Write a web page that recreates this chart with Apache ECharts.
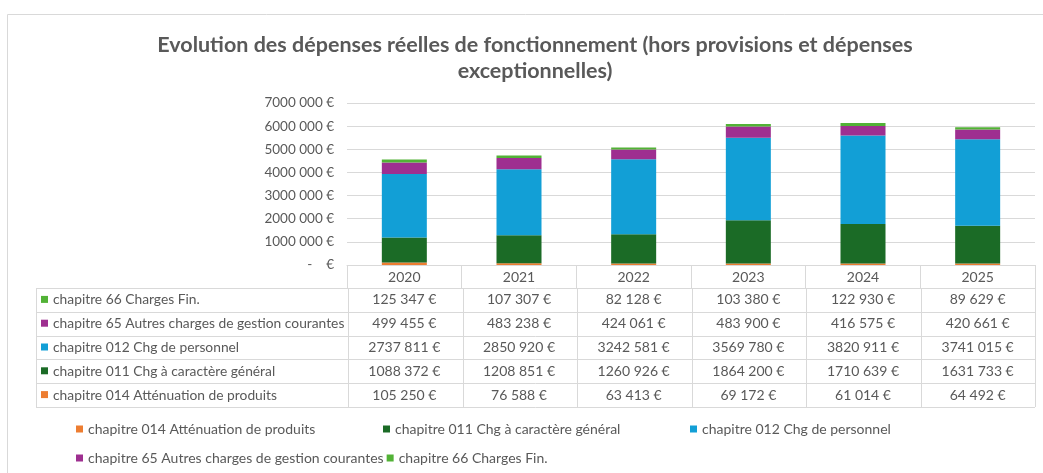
<!DOCTYPE html>
<html>
<head>
<meta charset="utf-8">
<script src="https://cdn.jsdelivr.net/npm/echarts@6/dist/echarts.min.js"></script>
<style>
html, body { margin: 0; padding: 0; background: #fff; }
#chart { width: 1043px; height: 473px; }
</style>
</head>
<body>
<div id="chart"></div>
<script>
// données
const years = ['2020', '2021', '2022', '2023', '2024', '2025'];
const ch014 = [105250, 76588, 63413, 69172, 61014, 64492];
const ch011 = [1088372, 1208851, 1260926, 1864200, 1710639, 1631733];
const ch012 = [2737811, 2850920, 3242581, 3569780, 3820911, 3741015];
const ch65 = [499455, 483238, 424061, 483900, 416575, 420661];
const ch66 = [125347, 107307, 82128, 103380, 122930, 89629];
const names = [
    'chapitre 014 Atténuation de produits',
    'chapitre 011 Chg à caractère général',
    'chapitre 012 Chg de personnel',
    'chapitre 65 Autres charges de gestion courantes',
    'chapitre 66 Charges Fin.'
];
const colors = ['#ED7D31', '#1B6B26', '#129FD6', '#9E2F90', '#52B236'];
const yMax = 7000000;
const yStep = 1000000;

const values = [ch014, ch011, ch012, ch65, ch66];
const font = 'Lato, "Open Sans", sans-serif';
const grey = '#595959';
const lineCol = '#d9d9d9';

function fmt(v) {
    const s = String(v);
    return (s.length > 3 ? s.slice(0, -3) + ' ' + s.slice(-3) : s) + ' €';
}

const chart = echarts.init(document.getElementById('chart'));
const option = {
    animation: false,
    title: {
        text: 'Evolution des dépenses réelles de fonctionnement (hors provisions et dépenses\nexceptionnelles)',
        left: 530,
        top: 27,
        textAlign: 'center',
        textStyle: { fontFamily: font, fontSize: 21.5, fontWeight: 'bold', color: grey, lineHeight: 26 }
    },
    grid: { left: 347, right: 8, top: 103, bottom: 208 },
    legend: {
        data: names,
        left: 76,
        top: 416,
        width: 940,
        padding: 0,
        icon: 'rect',
        itemWidth: 7,
        itemHeight: 7,
        itemGap: 3,
        textStyle: { fontFamily: font, fontSize: 14, color: grey, width: 292, lineHeight: 26 }
    },
    xAxis: {
        type: 'category',
        data: years,
        axisLine: { lineStyle: { color: lineCol, width: 1 } },
        axisTick: { show: true, length: 23, inside: false, lineStyle: { color: lineCol } },
        axisLabel: { color: grey, fontFamily: font, fontSize: 14, margin: 5 }
    },
    yAxis: {
        type: 'value',
        min: 0,
        max: yMax,
        interval: yStep,
        axisLine: { show: false },
        axisTick: { show: false },
        splitLine: { lineStyle: { color: lineCol, width: 1 } },
        axisLabel: {
            color: grey, fontFamily: font, fontSize: 13.5, margin: 13,
            formatter: v => v === 0 ? '-    €' : fmt(v)
        }
    },
    series: names.map((n, k) => ({
        name: n,
        type: 'bar',
        stack: 'total',
        barWidth: 45,
        itemStyle: { color: colors[k] },
        data: values[k]
    }))
};
chart.setOption(option);

// tableau de données sous l'axe
const rowOrder = [4, 3, 2, 1, 0];
const tableLeft = 36;
const labelRight = 348;
const rowTop = 288;
const rowH = 23.8;
const xEnd = 1035;
const bandW = (xEnd - labelRight) / years.length;
const g = [];
const lastY = rowTop + rowH * rowOrder.length;
// lignes horizontales
for (let r = 0; r <= rowOrder.length; r++) {
    const y = Math.round(rowTop + r * rowH) + 0.5;
    g.push({ type: 'line', shape: { x1: tableLeft, y1: y, x2: xEnd, y2: y }, style: { stroke: lineCol, lineWidth: 1 } });
}
// lignes verticales
g.push({ type: 'line', shape: { x1: tableLeft + 0.5, y1: rowTop, x2: tableLeft + 0.5, y2: lastY }, style: { stroke: lineCol } });
for (let i = 0; i <= years.length; i++) {
    const x = Math.round(labelRight + i * bandW) + 0.5;
    g.push({ type: 'line', shape: { x1: x, y1: rowTop, x2: x, y2: lastY }, style: { stroke: lineCol } });
}
rowOrder.forEach((k, r) => {
    const yc = rowTop + r * rowH + rowH / 2;
    g.push({ type: 'rect', shape: { x: 41, y: yc - 4, width: 7, height: 7 }, style: { fill: colors[k] } });
    g.push({ type: 'text', x: 53, y: yc, style: { text: names[k], fill: grey, font: '13.8px ' + font, textVerticalAlign: 'middle' } });
    values[k].forEach((v, i) => {
        const xc = chart.convertToPixel({ xAxisIndex: 0 }, years[i]);
        g.push({ type: 'text', x: xc, y: yc, style: { text: fmt(v), fill: grey, font: '14px ' + font, textAlign: 'center', textVerticalAlign: 'middle' } });
    });
});
// cadre
g.push({ type: 'rect', shape: { x: 7.5, y: 14.5, width: 1040, height: 470 }, style: { fill: 'none', stroke: lineCol, lineWidth: 1 } });
chart.setOption({ graphic: g });
</script>
</body>
</html>
